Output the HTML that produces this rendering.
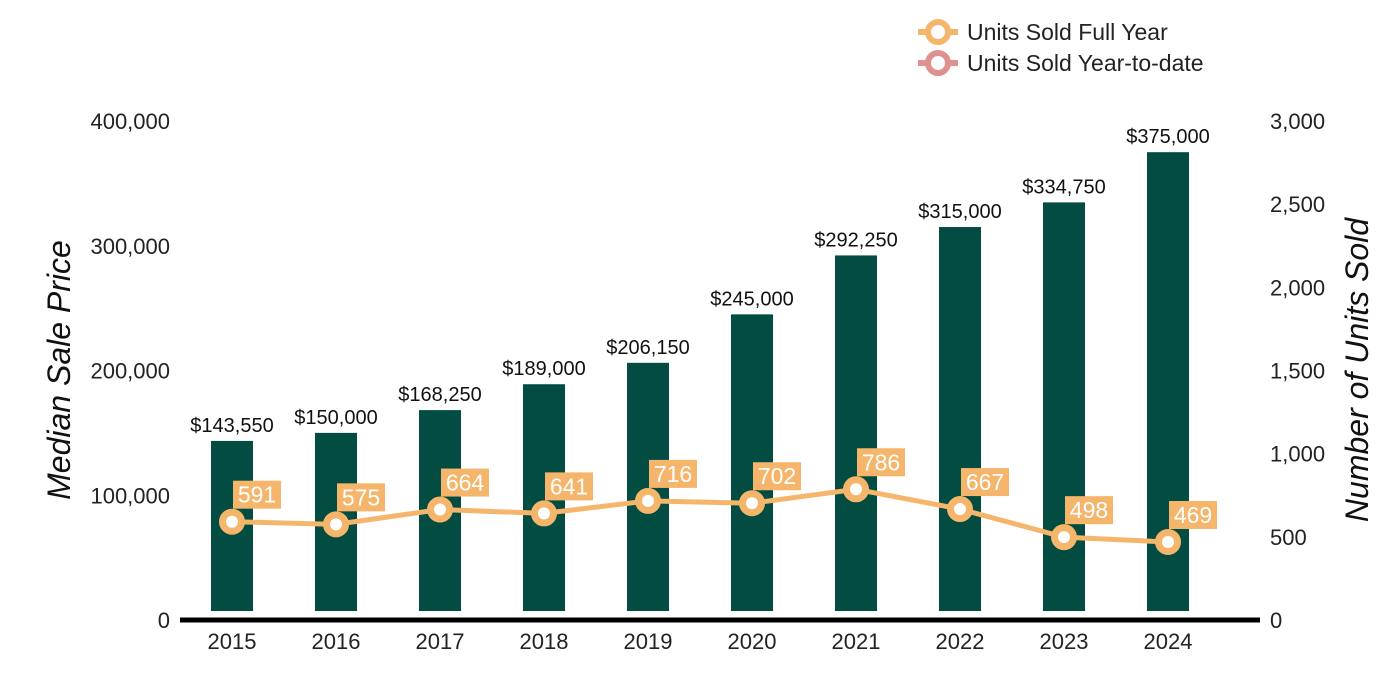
<!DOCTYPE html>
<html><head><meta charset="utf-8"><style>body{margin:0;background:#fff}svg{display:block;font-family:"Liberation Sans",Arial,sans-serif}</style></head>
<body>
<svg id="chart" width="1400" height="700" xmlns="http://www.w3.org/2000/svg">
<g id="legend">
<g>
<line x1="918" y1="32" x2="958" y2="32" stroke="#f5b66b" stroke-width="6"/>
<circle cx="938" cy="32" r="10" fill="#fff" stroke="#f5b66b" stroke-width="6"/>
<text x="967" y="40" font-size="23" fill="#222">Units Sold Full Year</text></g>
<g>
<line x1="918" y1="63" x2="958" y2="63" stroke="#e0908f" stroke-width="6"/>
<circle cx="938" cy="63" r="10" fill="#fff" stroke="#e0908f" stroke-width="6"/>
<text x="967" y="71" font-size="23" fill="#222">Units Sold Year-to-date</text></g>
</g>
<text transform="translate(70,370) rotate(-90)" text-anchor="middle" font-size="32" font-style="italic" fill="#111">Median Sale Price</text>
<text transform="translate(1368,370) rotate(-90)" text-anchor="middle" font-size="32" font-style="italic" fill="#111">Number of Units Sold</text>
<g id="plot"></g>
</svg>
<script>
const years=['2015','2016','2017','2018','2019','2020','2021','2022','2023','2024'];
const prices=[143550,150000,168250,189000,206150,245000,292250,315000,334750,375000];
const priceLabels=['$143,550','$150,000','$168,250','$189,000','$206,150','$245,000','$292,250','$315,000','$334,750','$375,000'];
const units=[591,575,664,641,716,702,786,667,498,469];
const leftTicks=[0,100000,200000,300000,400000];
const rightTicks=[0,500,1000,1500,2000,2500,3000];
const NS='http://www.w3.org/2000/svg';
const g=document.getElementById('plot');
const x=i=>232+i*104;
const yL=v=>620-v*(499/400000);
const yR=v=>620-v*(499/3000);
function el(t,a,txt){const e=document.createElementNS(NS,t);for(const k in a)e.setAttribute(k,a[k]);if(txt!=null)e.textContent=txt;g.appendChild(e);return e;}
leftTicks.forEach(v=>{const e=el('text',{x:170,y:yL(v)+8,'text-anchor':'end','font-size':22,fill:'#222'},v.toLocaleString('en-US'));

});
rightTicks.forEach(v=>{const e=el('text',{x:1270,y:yR(v)+8,'font-size':22,fill:'#222'},v.toLocaleString('en-US'));

});
prices.forEach((p,i)=>{const b=el('rect',{x:x(i)-21,y:yL(p),width:42,height:611-yL(p),fill:'#024c42'});


const t=el('text',{x:x(i),y:yL(p)-9,'text-anchor':'middle','font-size':20,fill:'#111'},priceLabels[i]);


const xl=el('text',{x:x(i),y:649,'text-anchor':'middle','font-size':22,fill:'#222'},years[i]);

});
const ax=el('line',{x1:180,y1:620,x2:1260,y2:620,stroke:'#000','stroke-width':5});


const ln=el('polyline',{points:units.map((u,i)=>x(i)+','+yR(u)).join(' '),fill:'none',stroke:'#f5b66b','stroke-width':5});


units.forEach((u,i)=>{const c=el('circle',{cx:x(i),cy:yR(u),r:9.5,fill:'#fff',stroke:'#f5b66b','stroke-width':7});


const r=el('rect',{x:x(i)+1,y:yR(u)-41,width:48,height:28,fill:'#f5b66b'});


const t=el('text',{x:x(i)+25,y:yR(u)-19,'text-anchor':'middle','font-size':23,fill:'#fff'},u);

});
</script>
</body></html>
